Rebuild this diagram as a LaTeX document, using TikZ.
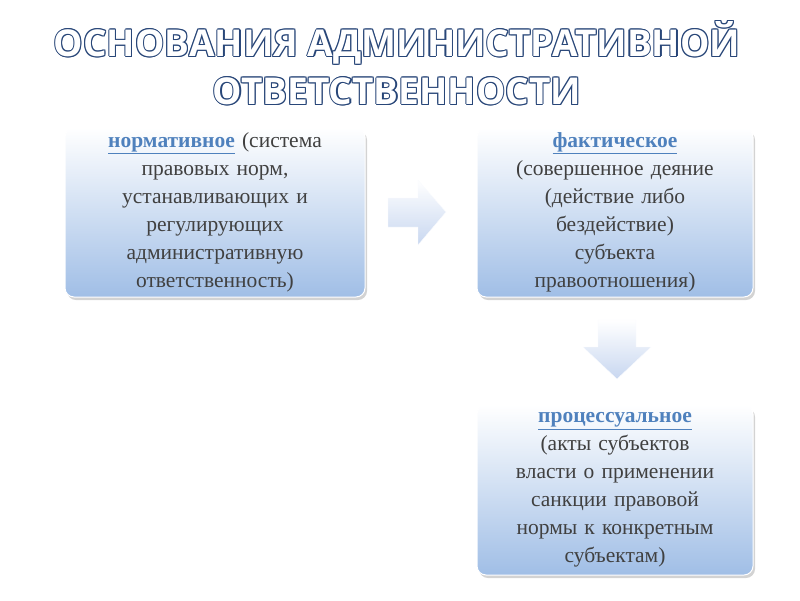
\documentclass[tikz,border=0pt]{standalone}
\usepackage{fontspec}
\setmainfont{Liberation Serif}
\newfontfamily\titlefont{Open Sans}
\usetikzlibrary{shadows}
\definecolor{txt}{RGB}{64,64,64}
\definecolor{hl}{RGB}{79,129,189}
\definecolor{boxbot}{RGB}{160,190,230}
\definecolor{outl}{RGB}{40,70,120}
\definecolor{arr}{RGB}{200,215,240}
\tikzset{
 card/.style={rounded corners=9pt, top color=white, bottom color=boxbot, draw=white, line width=1pt,
   drop shadow={shadow xshift=2pt,shadow yshift=-3pt,opacity=0.35},
   text width=#1, align=center, text=txt, font=\fontsize{21.5}{28}\selectfont, inner sep=2pt},
 ttl/.style={font=\titlefont\bfseries\fontsize{37}{48}\selectfont, align=center},
 arrowshape/.style={top color=white, bottom color=arr, draw=white!90!arr}
}
\newcommand{\hlw}[1]{\textcolor{hl}{\textbf{\underline{#1}}}}
\newcommand{\ttltext}{ОСНОВАНИЯ АДМИНИСТРАТИВНОЙ\\ОТВЕТСТВЕННОСТИ}
\begin{document}
\begin{tikzpicture}[x=1pt,y=-1pt]
\useasboundingbox (0,0) rectangle (800,600);
\foreach \dx/\dy in {-1.1/0,1.1/0,0/-1.1,0/1.1,-0.8/-0.8,0.8/0.8,-0.8/0.8,0.8/-0.8}
  \node[ttl,text=outl] at (397+\dx,63+\dy) {\ttltext};
\node[ttl,text=white] (title) at (397,63) {\ttltext};
\node[card=296pt, minimum height=169pt] (b1) at (215,212.5)
 {\hlw{нормативное} (система\\правовых норм,\\устанавливающих и\\регулирующих\\административную\\ответственность)};
\node[card=272pt, minimum height=169pt] (b2) at (615,212.5)
 {\hlw{фактическое}\\(совершенное деяние\\(действие либо\\бездействие)\\субъекта\\правоотношения)};
\node[card=272pt, minimum height=170pt] (b3) at (615,490)
 {\hlw{процессуальное}\\(акты субъектов\\власти о применении\\санкции правовой\\нормы к конкретным\\субъектам)};
\draw[arrowshape] (388,198) -- (418,198) -- (418,180) -- (446,212) -- (418,245) -- (418,227) -- (388,227) -- cycle;
\draw[arrowshape] (598,320) -- (636,320) -- (636,347) -- (651,347) -- (617,379) -- (583,347) -- (598,347) -- cycle;
\end{tikzpicture}
\end{document}
